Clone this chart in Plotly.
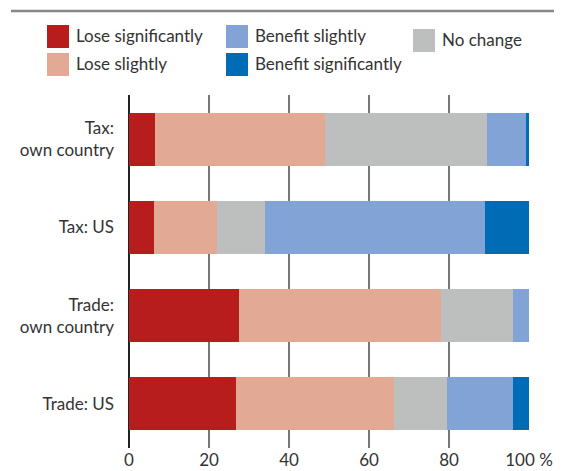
import plotly.graph_objects as go

categories = ["Tax:<br>own country", "Tax: US", "Trade:<br>own country", "Trade: US"]
series_names = ["Lose significantly", "Lose slightly", "No change", "Benefit slightly", "Benefit significantly"]
lose_sig = [6.4, 6.2, 27.5, 26.7]
lose_sl = [42.6, 15.8, 50.5, 39.6]
no_change = [40.5, 12.0, 18.0, 13.3]
benefit_sl = [9.8, 55.0, 4.0, 16.3]
benefit_sig = [0.7, 11.0, 0.0, 4.1]
colors = ["#B81D1D", "#E2A995", "#BDBFBE", "#82A3D6", "#006CB5"]
tick_vals = [0, 20, 40, 60, 80, 100]
tick_text = ["0", "20", "40", "60", "80", "100 %"]

OFF = 8  # page body margin offset
W, H = 562 - OFF, 471 - OFF
# target plot area in page pixels: x 129..529, y 95..448
L = 129 - OFF
R = W - (529 - OFF)
T = 95 - OFF
B = H - (448 - OFF)
FONT = "Lato"
TXT = "#333333"

def px(x):
    return (x - OFF - L) / (W - L - R)

def py(y):
    return (H - B - (y - OFF)) / (H - T - B)

fig = go.Figure()
for name, vals, col in zip(series_names, [lose_sig, lose_sl, no_change, benefit_sl, benefit_sig], colors):
    fig.add_trace(go.Bar(y=categories, x=vals, name=name, orientation="h",
                         marker=dict(color=col, line=dict(width=0)), width=0.6,
                         showlegend=False))

shapes = []
annotations = []
# top rule
shapes.append(dict(type="line", xref="paper", yref="paper", x0=px(11), x1=px(570),
                   y0=py(11), y1=py(11), line=dict(color="#888888", width=2.5)))
# legend
legend_pos = [
    (0, 47, 25), (1, 47, 53), (3, 226, 25), (4, 226, 53), (2, 413, 29),
]
sw = 22
for idx, x0, y0 in legend_pos:
    shapes.append(dict(type="rect", xref="paper", yref="paper", x0=px(x0), x1=px(x0 + sw),
                       y0=py(y0), y1=py(y0 + sw + 1), fillcolor=colors[idx], line=dict(width=0)))
    annotations.append(dict(xref="paper", yref="paper", x=px(x0 + sw + 5), y=py(y0 + sw / 2 - 0.5),
                            text=series_names[idx], showarrow=False, xanchor="left", yanchor="middle",
                            font=dict(family=FONT, size=17, color=TXT)))

fig.update_layout(
    barmode="stack", width=W, height=H,
    margin=dict(l=L, r=R, t=T, b=B, pad=0, autoexpand=False),
    plot_bgcolor="white", paper_bgcolor="white",
    font=dict(family=FONT, size=17, color=TXT),
    shapes=shapes, annotations=annotations,
    xaxis=dict(range=[0, 100], tickvals=tick_vals, ticktext=tick_text,
               showgrid=True, gridcolor="#777777", gridwidth=1.5,
               zeroline=True, zerolinecolor="#222222", zerolinewidth=1.5,
               ticks="", tickfont=dict(size=17, color=TXT), automargin=False,
               fixedrange=True),
    yaxis=dict(categoryorder="array", categoryarray=categories, autorange="reversed",
               showgrid=False, ticks="", ticklabelstandoff=14, automargin=False,
               tickfont=dict(size=17, color=TXT)),
    bargap=0.4,
)
fig.write_html("out.html")
